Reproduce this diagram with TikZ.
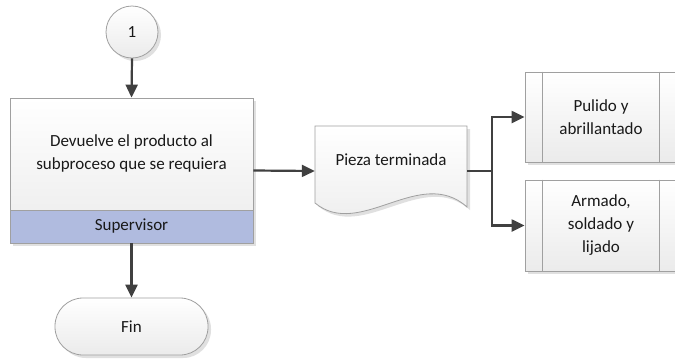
\documentclass[tikz,border=0pt]{standalone}
\usepackage{fontspec}
\setmainfont{Carlito}
\usetikzlibrary{arrows.meta,shadows,positioning}
\definecolor{bord}{HTML}{A0A0A0}
\definecolor{conn}{HTML}{404040}
\definecolor{band}{HTML}{B0BBDF}
\definecolor{boxbot}{HTML}{EBEBEB}
\tikzset{
  shp/.style={draw=bord, line width=0.8pt, top color=white, bottom color=boxbot,
    drop shadow={shadow xshift=3pt, shadow yshift=-3pt, fill=black!12, opacity=1}},
  txt/.style={font=\fontsize{17}{23}\selectfont, align=center, text=black!90},
  conline/.style={draw=conn, line width=2.2pt, -{Triangle[length=13pt,width=12pt]}},
  plainline/.style={draw=conn, line width=2.2pt},
}
\begin{document}
\begin{tikzpicture}[x=1pt,y=-1pt]
\useasboundingbox (0,0) rectangle (675,360);
\fill[white] (0,0) rectangle (675,360);
% circle connector
\node[shp, circle, minimum size=52pt, inner sep=0pt, txt] (c1) at (132,32) {1};
% process box
\node[shp, rectangle, minimum width=243pt, minimum height=145pt, inner sep=0pt] (proc) at (131.5,170.5) {};
\node[txt] (proctxt) at (131.5,153) {Devuelve el producto al\\subproceso que se requiera};
\node[draw=bord, line width=0.8pt, fill=band, minimum width=243pt, minimum height=33pt, inner sep=0pt, txt] (sup) at (131.5,226.5) {Supervisor};
% end terminal
\node[shp, rectangle, rounded corners=28pt, minimum width=153pt, minimum height=57pt, inner sep=0pt, txt] (fin) at (131.5,326.5) {Fin};
% document
\node[minimum width=152pt, minimum height=90pt, inner sep=0pt] (doc) at (391,171) {};
\path[shp] (315,126) -- (467,126) -- (467,207) .. controls (420,165) and (360,240) .. (315,203) -- cycle;
\node[txt] (doctxt) at (391,160) {Pieza terminada};
% subprocesses
\node[shp, rectangle, minimum width=152pt, minimum height=90pt, inner sep=0pt] (sub1) at (601,117) {};
\node[shp, rectangle, minimum width=152pt, minimum height=91pt, inner sep=0pt] (sub2) at (601,225.5) {};
\draw[bord, line width=0.8pt] ([xshift=18pt]sub1.north west) -- ([xshift=18pt]sub1.south west);
\draw[bord, line width=0.8pt] ([xshift=-18pt]sub1.north east) -- ([xshift=-18pt]sub1.south east);
\draw[bord, line width=0.8pt] ([xshift=18pt]sub2.north west) -- ([xshift=18pt]sub2.south west);
\draw[bord, line width=0.8pt] ([xshift=-18pt]sub2.north east) -- ([xshift=-18pt]sub2.south east);
\node[txt] (sub1txt) at (sub1) {Pulido y\\abrillantado};
\node[txt] (sub2txt) at (sub2) {Armado,\\soldado y\\lijado};
% connectors
\draw[conline] (c1.south) -- (proc.north);
\draw[conline] (sup.south) -- (fin.north);
\draw[conline] (proc.east) -- (doc.west);
\coordinate (br) at (492,171);
\draw[plainline] (doc.east) -- (br);
\draw[conline] (br) |- (sub1.west);
\draw[conline] (br) |- (sub2.west);
\end{tikzpicture}
\end{document}
